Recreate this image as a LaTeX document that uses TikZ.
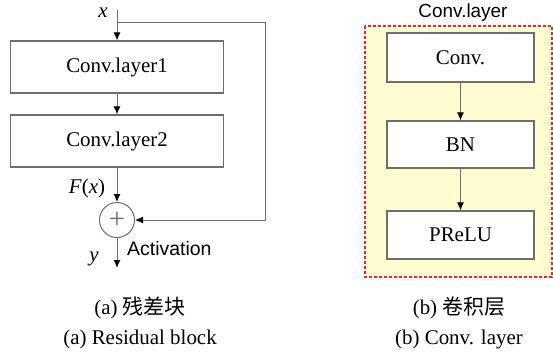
\documentclass[tikz,border=0pt]{standalone}
\usepackage{fontspec}
\setmainfont{Liberation Serif}
\newfontfamily\sansf{Liberation Sans}
\newfontfamily\cjk{Noto Sans CJK SC}
\usetikzlibrary{arrows.meta}
\definecolor{linegray}{HTML}{6E6E6E}
\definecolor{boxfill}{HTML}{FFFCD2}
\definecolor{dashred}{HTML}{F0242A}

\begin{document}
\begin{tikzpicture}[x=1bp,y=-1bp,
  font=\fontsize{21}{25}\selectfont,
  blk/.style={draw=linegray,line width=1.3bp,fill=white,inner sep=0pt},
  arr/.style={draw=linegray,line width=1bp,-{Latex[length=8bp,width=7bp,black]}},
  lbl/.style={anchor=base,inner sep=0pt}]
\useasboundingbox (0,0) rectangle (553,354);

% (a) residual block
\node[blk,minimum width=213bp,minimum height=52bp] (l1) at (117,67) {Conv.layer1};
\node[blk,minimum width=213bp,minimum height=52bp] (l2) at (117,141) {Conv.layer2};
\node[circle,draw=linegray,line width=1bp,minimum size=35bp,inner sep=0pt,
  font=\fontsize{29}{30}\selectfont] (sum) at (117,220) {\textcolor{linegray}{+}};
\coordinate (in) at (117,10);
\coordinate (split) at (117,22);
\coordinate (back) at (265,22);
\coordinate (out) at (117,268);
\draw[arr] (in) -- (l1);
\draw[arr] (l1) -- (l2);
\draw[arr] (l2) -- (sum);
\draw[arr] (split) -- (back) |- (sum);
\draw[arr] (sum) -- (out);
\node[lbl] (xin) at (103,17) {\textit{x}};
\node[lbl] (fx) at (87,193) {\textit{F}(\textit{x})};
\node[lbl] (yout) at (94,261) {\textit{y}};
\node[lbl,anchor=base west,font=\sansf\fontsize{19.5}{23}\selectfont] (act) at (127,255) {Activation};

% (b) conv layer
\draw[dashred,line width=1.8bp,dash pattern=on 3bp off 2bp,fill=boxfill] (365,26) rectangle (552,277);
\node[lbl,font=\sansf\fontsize{19}{23}\selectfont] (ttl) at (463,17) {Conv.layer};
\node[blk,minimum width=147bp,minimum height=49bp] (conv) at (460.5,57.5) {Conv.};
\node[blk,minimum width=147bp,minimum height=47bp] (bn) at (460.5,144.5) {BN};
\node[blk,minimum width=147bp,minimum height=48bp] (prelu) at (460.5,235) {PReLU};
\draw[arr] (conv) -- (bn);
\draw[arr] (bn) -- (prelu);

% captions
\node[lbl] (capa) at (140,314) {(a) {\cjk 残差块}};
\node[lbl] (capae) at (140,344) {(a) Residual block};
\node[lbl] (capb) at (459,314) {(b) {\cjk 卷积层}};
\node[lbl] (capbe) at (459,344) {(b) Conv. layer};
\end{tikzpicture}
\end{document}
